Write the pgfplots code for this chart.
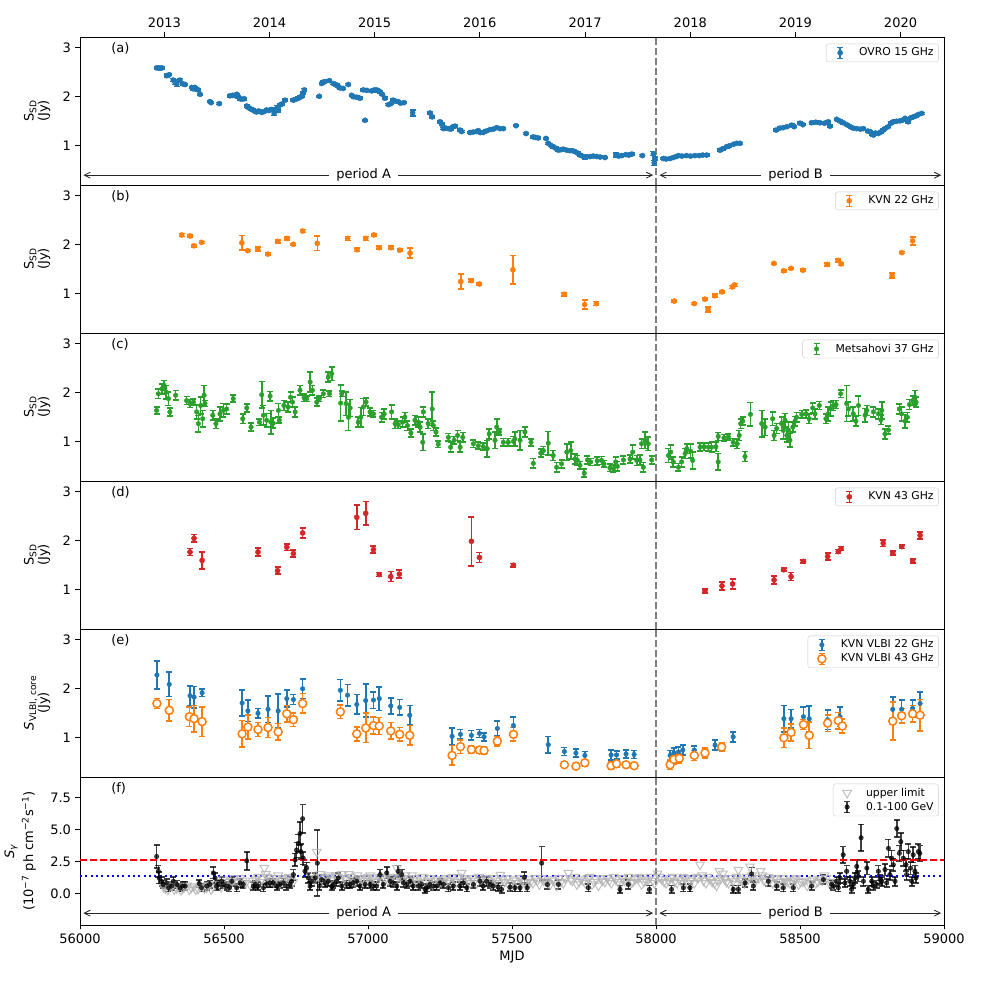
\documentclass[border=0pt]{standalone}
\usepackage{fontspec}
\setmainfont{DejaVu Sans}
\usepackage{pgfplots}
\usepackage{pgfplotstable}
\pgfplotsset{compat=1.18}
\usetikzlibrary{arrows.meta}
\definecolor{C0}{HTML}{1F77B4}
\definecolor{C1}{HTML}{FF7F0E}
\definecolor{C2}{HTML}{2CA02C}
\definecolor{C3}{HTML}{D62728}

\pgfplotstableread{
x y e
56266 2.59 0.02
56272 2.59 0.02
56278 2.58 0.02
56284 2.59 0.02
56301 2.43 0.03
56310 2.45 0.02
56324 2.34 0.03
56330 2.30 0.05
56336 2.26 0.05
56347 2.34 0.03
56359 2.26 0.02
56365 2.25 0.02
56388 2.19 0.02
56394 2.16 0.02
56399 2.19 0.02
56405 2.15 0.02
56411 2.14 0.02
56417 2.05 0.02
56451 1.90 0.02
56455 1.88 0.02
56484 1.86 0.02
56521 2.02 0.02
56530 2.03 0.02
56538 2.03 0.02
56545 2.05 0.02
56550 2.00 0.02
56556 1.96 0.02
56561 1.95 0.02
56570 1.96 0.02
56579 1.81 0.02
56585 1.78 0.02
56590 1.76 0.02
56596 1.74 0.02
56602 1.73 0.02
56608 1.70 0.02
56613 1.69 0.02
56620 1.71 0.02
56631 1.68 0.02
56640 1.70 0.02
56648 1.73 0.02
56656 1.72 0.02
56666 1.74 0.03
56674 1.66 0.04
56683 1.76 0.06
56689 1.72 0.03
56694 1.83 0.02
56700 1.85 0.02
56712 1.93 0.02
56741 1.93 0.02
56750 1.95 0.02
56758 1.97 0.02
56764 1.99 0.02
56770 2.01 0.02
56776 2.08 0.02
56779 2.14 0.03
56831 2.01 0.02
56839 2.27 0.02
56845 2.30 0.02
56851 2.31 0.02
56866 2.33 0.02
56880 2.27 0.02
56886 2.25 0.02
56891 2.24 0.02
56897 2.21 0.02
56903 2.18 0.02
56914 2.17 0.02
56932 2.25 0.02
56943 2.03 0.02
56950 2.00 0.02
56961 1.99 0.02
56972 1.97 0.02
56984 2.14 0.02
56990 1.52 0.02
56996 2.13 0.02
57013 2.12 0.02
57022 2.14 0.02
57030 2.14 0.02
57036 2.12 0.02
57042 2.10 0.02
57050 2.05 0.02
57059 1.97 0.02
57071 1.84 0.02
57080 1.86 0.02
57088 1.93 0.02
57095 1.91 0.02
57105 1.90 0.02
57113 1.87 0.02
57125 1.88 0.02
57155 1.67 0.06
57215 1.67 0.02
57223 1.59 0.02
57250 1.49 0.02
57256 1.44 0.02
57262 1.35 0.02
57270 1.36 0.02
57279 1.35 0.02
57287 1.34 0.02
57296 1.39 0.02
57302 1.40 0.02
57319 1.32 0.02
57325 1.29 0.02
57354 1.27 0.02
57365 1.28 0.02
57377 1.29 0.02
57383 1.31 0.02
57390 1.27 0.02
57400 1.27 0.02
57410 1.30 0.02
57424 1.33 0.02
57435 1.34 0.02
57447 1.37 0.02
57458 1.35 0.02
57470 1.35 0.02
57514 1.41 0.02
57549 1.25 0.02
57574 1.18 0.02
57582 1.17 0.02
57591 1.16 0.02
57618 1.15 0.02
57626 1.05 0.02
57635 1.01 0.02
57644 0.98 0.02
57652 0.95 0.02
57661 0.91 0.02
57670 0.92 0.02
57678 0.93 0.02
57690 0.91 0.02
57701 0.90 0.02
57710 0.90 0.02
57719 0.88 0.02
57728 0.85 0.02
57736 0.81 0.02
57748 0.78 0.02
57755 0.77 0.05
57771 0.78 0.02
57782 0.79 0.02
57794 0.78 0.02
57806 0.77 0.02
57823 0.76 0.02
57861 0.81 0.04
57870 0.79 0.02
57881 0.80 0.02
57895 0.82 0.02
57905 0.81 0.02
57916 0.83 0.02
57953 0.80 0.02
57991 0.84 0.04
57994 0.65 0.05
57996 0.74 0.03
58025 0.74 0.02
58035 0.73 0.02
58049 0.74 0.02
58060 0.76 0.02
58070 0.78 0.02
58078 0.80 0.02
58090 0.79 0.02
58106 0.80 0.02
58120 0.79 0.02
58135 0.80 0.02
58150 0.80 0.02
58162 0.81 0.02
58176 0.81 0.02
58222 0.91 0.02
58232 0.94 0.02
58245 0.98 0.02
58255 1.00 0.02
58269 1.03 0.02
58280 1.05 0.02
58292 1.05 0.02
58417 1.32 0.02
58430 1.36 0.02
58442 1.37 0.02
58455 1.39 0.02
58471 1.42 0.02
58480 1.39 0.02
58500 1.46 0.02
58510 1.43 0.02
58540 1.47 0.02
58555 1.48 0.02
58569 1.47 0.02
58585 1.46 0.02
58598 1.49 0.02
58604 1.40 0.02
58627 1.54 0.02
58640 1.50 0.02
58650 1.47 0.02
58662 1.43 0.02
58674 1.39 0.02
58685 1.36 0.02
58697 1.35 0.02
58710 1.34 0.02
58720 1.35 0.02
58735 1.30 0.02
58743 1.29 0.02
58750 1.24 0.02
58755 1.22 0.02
58762 1.26 0.02
58772 1.25 0.02
58780 1.28 0.02
58789 1.32 0.02
58795 1.35 0.02
58807 1.39 0.02
58815 1.46 0.02
58824 1.49 0.02
58835 1.50 0.02
58847 1.51 0.02
58855 1.52 0.02
58865 1.56 0.02
58876 1.49 0.02
58885 1.57 0.02
58893 1.59 0.02
58903 1.61 0.02
58911 1.64 0.02
58922 1.66 0.02
}\ovro

\pgfplotstableread{
x y e
56353 2.20 0.03
56382 2.18 0.02
56396 1.98 0.02
56422 2.05 0.02
56562 2.04 0.15
56582 1.88 0.02
56617 1.91 0.04
56652 1.81 0.02
56686 2.07 0.03
56718 2.13 0.03
56741 2.01 0.02
56773 2.28 0.03
56824 2.03 0.15
56929 2.13 0.04
56962 1.90 0.04
56992 2.13 0.04
57020 2.20 0.02
57039 1.94 0.03
57080 1.94 0.03
57110 1.89 0.02
57146 1.83 0.10
57322 1.25 0.15
57359 1.27 0.03
57387 1.20 0.02
57503 1.49 0.29
57682 0.99 0.03
57752 0.78 0.09
57793 0.80 0.04
58064 0.85 0.02
58133 0.80 0.02
58170 0.89 0.02
58181 0.68 0.05
58204 0.96 0.03
58229 1.04 0.02
58265 1.14 0.03
58273 1.18 0.03
58409 1.62 0.02
58443 1.47 0.02
58469 1.52 0.02
58510 1.48 0.02
58595 1.60 0.03
58633 1.68 0.03
58643 1.61 0.03
58820 1.37 0.05
58853 1.84 0.02
58891 2.08 0.08
}\kvnb

\pgfplotstableread{
x y e
56266 1.64 0.07
56272 1.98 0.10
56284 2.08 0.10
56292 2.15 0.10
56299 2.01 0.14
56307 1.88 0.14
56312 1.61 0.08
56332 1.95 0.10
56370 1.84 0.08
56382 1.78 0.08
56394 1.81 0.06
56405 1.61 0.14
56411 1.37 0.17
56419 1.74 0.17
56426 1.47 0.17
56431 1.95 0.20
56434 1.78 0.06
56461 1.54 0.10
56472 1.37 0.10
56486 1.57 0.14
56498 1.64 0.14
56509 1.67 0.10
56532 1.88 0.07
56565 1.47 0.10
56579 1.69 0.08
56594 1.30 0.08
56623 1.40 0.07
56631 1.96 0.27
56637 1.54 0.20
56648 1.44 0.14
56660 1.93 0.10
56663 1.40 0.24
56671 1.38 0.10
56689 1.64 0.14
56692 1.44 0.06
56708 1.74 0.10
56723 1.71 0.10
56731 1.91 0.10
56738 1.81 0.10
56747 1.61 0.10
56764 2.05 0.10
56778 1.90 0.08
56787 1.88 0.06
56799 2.22 0.20
56807 2.05 0.10
56822 1.81 0.08
56831 1.88 0.06
56845 1.98 0.08
56862 2.32 0.10
56874 2.39 0.14
56866 1.98 0.06
56905 1.79 0.37
56909 1.98 0.06
56924 1.78 0.24
56932 1.50 0.27
56938 1.69 0.17
56966 1.40 0.10
56975 1.50 0.20
56984 1.71 0.17
56993 1.81 0.08
57007 1.61 0.08
57019 1.57 0.07
57047 1.50 0.10
57056 1.57 0.10
57082 1.61 0.14
57094 1.37 0.10
57105 1.35 0.08
57120 1.40 0.10
57128 1.50 0.10
57137 1.33 0.10
57149 1.18 0.08
57163 1.44 0.10
57175 1.40 0.10
57181 1.30 0.10
57190 0.99 0.17
57192 1.61 0.10
57209 1.37 0.10
57223 1.67 0.34
57227 1.33 0.10
57236 1.20 0.08
57244 0.95 0.07
57279 1.09 0.08
57287 0.89 0.10
57299 1.03 0.08
57311 1.13 0.10
57320 0.89 0.10
57329 1.09 0.10
57366 0.96 0.08
57383 0.92 0.07
57400 0.90 0.07
57414 0.86 0.17
57421 1.16 0.10
57441 1.03 0.17
57447 1.30 0.17
57456 1.20 0.06
57470 0.99 0.08
57487 0.99 0.08
57505 1.01 0.10
57510 1.06 0.14
57528 1.03 0.20
57545 1.20 0.10
57566 0.99 0.07
57574 0.56 0.10
57600 0.77 0.08
57609 0.82 0.08
57626 0.97 0.24
57643 0.72 0.10
57655 0.48 0.10
57672 0.55 0.08
57690 0.79 0.17
57704 0.82 0.17
57719 0.65 0.10
57727 0.62 0.10
57736 0.52 0.08
57751 0.36 0.08
57762 0.63 0.08
57773 0.59 0.07
57796 0.61 0.08
57811 0.62 0.08
57819 0.55 0.07
57840 0.47 0.08
57852 0.45 0.08
57860 0.59 0.10
57866 0.50 0.10
57887 0.63 0.08
57910 0.65 0.08
57919 0.79 0.14
57933 0.62 0.10
57944 0.63 0.10
57950 0.96 0.10
57956 0.48 0.10
57962 1.03 0.17
57973 0.96 0.14
57985 0.63 0.08
58043 0.72 0.14
58051 0.79 0.14
58060 0.59 0.10
58078 0.48 0.08
58089 0.59 0.10
58101 0.76 0.10
58107 0.86 0.10
58120 0.81 0.14
58127 0.62 0.17
58153 0.89 0.08
58167 0.90 0.08
58182 0.89 0.08
58193 0.89 0.10
58208 0.90 0.10
58216 1.11 0.08
58216 0.59 0.17
58236 1.08 0.07
58251 1.10 0.06
58268 0.99 0.08
58282 0.96 0.10
58289 1.13 0.10
58294 1.37 0.10
58301 1.42 0.08
58309 0.70 0.10
58328 1.56 0.24
58367 1.37 0.27
58379 1.30 0.17
58405 1.47 0.14
58410 1.13 0.10
58419 1.27 0.10
58436 1.37 0.14
58442 1.23 0.17
58448 1.44 0.14
58454 1.13 0.14
58460 1.23 0.17
58465 1.03 0.14
58475 1.30 0.10
58483 1.42 0.10
58488 1.50 0.10
58506 1.56 0.08
58521 1.57 0.08
58532 1.47 0.10
58544 1.69 0.10
58552 1.57 0.10
58567 1.74 0.08
58590 1.47 0.10
58598 1.57 0.14
58606 1.67 0.14
58616 1.74 0.10
58625 1.76 0.08
58641 1.98 0.08
58662 1.78 0.37
58668 1.67 0.14
58685 1.57 0.14
58694 1.42 0.10
58703 1.74 0.20
58726 1.54 0.14
58732 1.64 0.10
58755 1.61 0.10
58772 1.57 0.10
58784 1.64 0.17
58781 1.45 0.10
58795 1.16 0.10
58807 1.24 0.08
58845 1.67 0.10
58853 1.57 0.14
58865 1.42 0.14
58873 1.50 0.10
58880 1.76 0.10
58891 1.84 0.10
58899 1.91 0.14
58903 1.81 0.10
}\mets

\pgfplotstableread{
x y e
56382 1.77 0.07
56396 2.05 0.08
56424 1.60 0.17
56618 1.77 0.08
56686 1.39 0.07
56718 1.87 0.07
56741 1.74 0.07
56773 2.16 0.10
56961 2.48 0.25
56992 2.56 0.24
57019 1.82 0.07
57039 1.31 0.04
57079 1.27 0.10
57109 1.32 0.08
57359 1.99 0.50
57387 1.66 0.10
57505 1.50 0.04
58170 0.98 0.04
58229 1.08 0.08
58266 1.12 0.10
58410 1.20 0.08
58443 1.41 0.03
58469 1.27 0.08
58512 1.58 0.03
58596 1.68 0.07
58633 1.78 0.04
58643 1.84 0.04
58789 1.95 0.07
58822 1.75 0.04
58853 1.88 0.04
58891 1.59 0.04
58917 2.11 0.07
}\kvnd

\pgfplotstableread{
x y e
56267 2.28 0.29
56310 2.09 0.25
56382 1.86 0.20
56396 1.83 0.22
56424 1.92 0.08
56563 1.71 0.27
56583 1.55 0.22
56618 1.50 0.10
56653 1.58 0.27
56688 1.55 0.34
56718 1.80 0.17
56741 1.78 0.10
56773 2.00 0.20
56904 1.97 0.22
56929 1.87 0.22
56961 1.68 0.20
56992 1.76 0.34
57019 1.77 0.17
57039 1.80 0.24
57079 1.65 0.16
57110 1.62 0.16
57145 1.46 0.20
57292 1.03 0.17
57321 1.07 0.10
57359 1.05 0.10
57387 1.09 0.08
57403 1.02 0.08
57449 1.19 0.15
57505 1.25 0.18
57626 0.86 0.17
57682 0.72 0.08
57722 0.69 0.08
57753 0.64 0.08
57844 0.65 0.10
57863 0.65 0.08
57896 0.67 0.08
57924 0.66 0.08
58049 0.64 0.10
58062 0.69 0.10
58078 0.71 0.10
58093 0.75 0.10
58133 0.75 0.08
58205 0.85 0.10
58268 1.02 0.10
58444 1.39 0.27
58469 1.39 0.19
58512 1.43 0.20
58532 1.39 0.26
58596 1.37 0.20
58639 1.43 0.20
58822 1.58 0.25
58853 1.58 0.19
58891 1.60 0.17
58917 1.70 0.24
}\vlbib

\pgfplotstableread{
x y e
56267 1.70 0.10
56310 1.56 0.22
56380 1.43 0.20
56396 1.39 0.27
56424 1.33 0.30
56563 1.08 0.27
56583 1.22 0.24
56618 1.17 0.14
56653 1.21 0.20
56688 1.12 0.17
56718 1.49 0.17
56741 1.37 0.14
56773 1.70 0.20
56904 1.53 0.14
56961 1.08 0.14
56992 1.20 0.30
57019 1.25 0.17
57039 1.24 0.17
57079 1.14 0.17
57110 1.07 0.14
57145 1.05 0.20
57292 0.64 0.20
57321 0.82 0.14
57359 0.76 0.07
57387 0.75 0.07
57403 0.74 0.07
57449 0.93 0.10
57505 1.07 0.14
57682 0.45 0.05
57722 0.42 0.07
57753 0.49 0.07
57844 0.43 0.07
57863 0.47 0.07
57896 0.45 0.05
57924 0.43 0.05
58049 0.45 0.10
58062 0.56 0.10
58081 0.58 0.10
58133 0.64 0.10
58170 0.69 0.10
58228 0.81 0.08
58444 1.00 0.20
58469 1.11 0.17
58512 1.27 0.10
58532 1.05 0.27
58596 1.30 0.17
58633 1.35 0.17
58647 1.24 0.14
58822 1.34 0.39
58853 1.45 0.15
58891 1.49 0.17
58917 1.46 0.32
}\vlbio

\pgfplotstableread{
x y
56290 0.5
56297 0.4
56305 0.3
56312 0.7
56320 0.6
56327 0.3
56335 0.4
56342 0.55
56350 0.25
56357 0.4
56362 0.5
56372 0.6
56380 0.3
56387 0.45
56395 0.55
56402 0.3
56410 0.35
56417 0.5
56425 0.6
56432 0.4
56440 0.45
56447 0.65
56455 0.3
56462 0.5
56470 0.7
56480 0.9
56490 0.5
56497 1.1
56505 0.9
56512 0.7
56520 0.6
56527 1.0
56535 1.2
56542 0.9
56550 0.8
56557 1.2
56565 1.0
56575 0.8
56590 0.7
56600 1.0
56610 1.1
56617 1.3
56625 0.9
56632 1.1
56640 2.0
56645 1.5
56650 1.3
56658 1.2
56665 1.0
56672 0.9
56680 1.2
56688 1.4
56695 0.8
56702 1.0
56710 1.1
56717 1.2
56725 1.3
56732 1.0
56740 0.9
56800 1.4
56808 1.2
56815 1.1
56822 3.25
56828 1.3
56835 1.5
56843 1.0
56850 1.2
56858 1.3
56865 1.4
56873 1.1
56880 1.0
56888 1.4
56895 1.3
56903 1.0
56910 1.5
56918 1.2
56925 1.1
56933 1.5
56940 1.3
56948 1.1
56955 0.9
56963 1.4
56970 1.2
56978 1.1
56985 1.0
56993 1.2
57000 1.3
57008 1.4
57015 1.1
57023 1.0
57030 0.9
57040 1.3
57050 1.2
57060 1.1
57070 1.0
57078 1.2
57085 1.3
57093 0.9
57100 2.0
57108 1.3
57115 1.2
57123 1.1
57130 1.4
57138 1.2
57145 1.0
57153 1.4
57160 1.2
57168 1.0
57175 0.8
57183 1.1
57190 1.3
57200 0.9
57210 1.0
57218 1.2
57225 0.7
57233 1.0
57240 1.1
57248 0.8
57255 0.9
57263 1.1
57270 1.2
57278 1.0
57285 0.8
57293 1.3
57300 1.0
57308 0.9
57315 1.3
57325 1.6
57333 1.2
57340 1.1
57348 1.0
57355 0.8
57363 1.2
57370 1.0
57378 0.8
57385 1.3
57393 1.1
57400 0.9
57408 1.2
57415 1.1
57423 0.9
57430 0.7
57438 1.2
57445 1.0
57453 0.8
57460 1.45
57468 1.1
57475 0.9
57483 1.2
57490 0.6
57498 0.8
57505 1.1
57513 1.0
57520 0.8
57528 1.2
57535 1.0
57543 0.9
57550 0.6
57558 1.1
57565 0.9
57573 0.8
57580 1.2
57588 1.0
57595 0.7
57603 1.2
57610 1.0
57618 0.9
57625 0.8
57633 0.7
57640 1.1
57648 1.0
57655 0.6
57663 1.2
57670 0.9
57678 0.8
57685 1.2
57696 1.6
57703 1.1
57710 1.0
57718 1.3
57725 0.7
57733 0.9
57740 1.1
57748 1.0
57755 0.8
57763 1.2
57770 1.3
57778 0.7
57785 0.9
57793 1.1
57800 0.6
57808 1.2
57815 1.0
57823 0.9
57830 1.2
57838 1.0
57845 0.8
57853 1.3
57860 1.1
57868 0.9
57875 0.7
57883 1.2
57890 1.0
57898 1.0
57905 1.3
57913 0.8
57920 0.9
57928 1.1
57935 1.2
57943 1.3
57950 0.7
57958 0.9
57965 1.0
57973 1.1
57980 1.3
57988 1.0
57995 0.8
58005 1.55
58013 1.3
58020 1.1
58028 0.9
58035 0.8
58043 1.0
58050 1.2
58058 1.3
58065 0.9
58073 0.8
58080 1.1
58088 1.0
58095 1.3
58103 1.2
58110 0.8
58118 1.0
58125 1.1
58133 0.8
58140 1.3
58147 1.2
58153 2.25
58160 1.4
58165 1.0
58173 0.8
58180 1.3
58188 1.1
58195 0.9
58203 0.8
58210 0.6
58215 1.0
58220 1.75
58226 1.2
58232 1.55
58238 1.1
58245 0.9
58252 0.8
58260 1.2
58268 1.0
58275 0.7
58280 1.3
58286 1.85
58293 1.1
58300 1.0
58307 0.8
58315 1.3
58320 1.1
58326 2.1
58333 1.4
58340 0.9
58345 1.0
58350 1.2
58357 1.2
58363 1.75
58369 1.4
58375 1.0
58382 0.9
58390 1.3
58397 1.1
58405 0.8
58412 1.2
58420 1.1
58427 0.9
58435 0.7
58442 1.2
58450 1.0
58457 0.9
58465 0.8
58472 1.0
58480 1.1
58487 1.2
58495 0.7
58502 0.9
58510 0.9
58517 1.0
58525 0.6
58532 0.8
58540 1.0
58547 1.1
58555 0.8
58562 0.9
58570 1.1
58577 1.0
58585 1.4
58592 1.2
58600 0.9
58607 0.9
58615 0.7
}\ul

\pgfplotstableread{
x y e
56266 2.89 0.90
56272 1.73 0.45
56275 1.21 0.45
56283 0.95 0.35
56289 0.70 0.30
56301 0.82 0.30
56307 0.44 0.30
56318 0.57 0.30
56324 0.95 0.35
56336 0.70 0.30
56347 0.44 0.30
56356 0.57 0.30
56365 0.57 0.30
56414 0.77 0.30
56422 0.44 0.30
56440 0.57 0.30
56451 0.70 0.30
56463 1.60 0.45
56469 1.21 0.40
56474 0.57 0.30
56480 0.70 0.35
56492 0.95 0.35
56498 0.70 0.30
56509 0.57 0.30
56519 0.44 0.30
56527 0.95 0.35
56544 0.44 0.30
56556 0.82 0.30
56567 0.70 0.30
56579 2.55 0.70
56602 0.57 0.30
56608 0.70 0.30
56619 0.57 0.30
56637 0.44 0.30
56648 0.75 0.30
56660 0.82 0.30
56671 0.82 0.30
56683 0.57 0.30
56694 0.70 0.30
56706 0.82 0.35
56717 0.57 0.30
56729 0.70 0.30
56735 0.95 0.35
56741 1.47 0.40
56747 2.63 0.50
56752 3.40 0.60
56758 3.92 0.70
56764 4.69 0.90
56767 3.27 0.60
56773 5.85 1.10
56775 2.76 0.50
56781 1.73 0.45
56787 1.98 0.45
56793 1.21 0.40
56799 0.57 0.30
56804 0.95 0.35
56816 1.21 0.40
56824 2.37 2.60
56831 0.57 0.30
56839 1.08 0.35
56851 0.82 0.30
56862 0.95 0.35
56874 0.57 0.30
56880 0.70 0.30
56891 0.95 0.35
56897 1.21 0.40
56909 0.57 0.30
56926 0.70 0.30
56938 0.70 0.30
56949 0.82 0.30
56961 0.95 0.35
56972 0.57 0.30
56990 0.70 0.30
57007 0.70 0.30
57019 0.57 0.30
57030 0.57 0.30
57042 1.47 0.40
57053 0.70 0.30
57065 1.60 0.45
57077 0.95 0.35
57088 0.82 0.30
57100 0.57 0.30
57105 1.73 0.45
57117 1.47 0.40
57123 0.82 0.30
57134 0.70 0.30
57146 0.95 0.35
57157 0.57 0.30
57175 0.57 0.30
57186 0.70 0.30
57198 0.31 0.30
57204 0.44 0.30
57215 0.70 0.30
57227 0.57 0.30
57238 0.57 0.30
57250 0.82 0.30
57262 0.70 0.30
57279 0.44 0.30
57296 0.57 0.30
57319 0.57 0.30
57331 0.82 0.30
57343 0.44 0.30
57366 0.70 0.30
57389 0.95 0.35
57400 0.57 0.30
57412 0.95 0.35
57424 0.70 0.30
57435 0.57 0.30
57452 0.49 0.30
57464 0.31 0.30
57493 0.49 0.30
57510 0.44 0.30
57528 0.44 0.30
57543 1.26 0.40
57553 0.44 0.30
57603 2.37 1.30
57623 0.70 0.35
57661 0.70 0.35
57765 0.44 0.30
57875 0.31 0.30
57904 0.70 0.35
57977 0.31 0.30
58054 0.31 0.30
58095 0.44 0.30
58118 0.44 0.30
58268 0.31 0.30
58286 0.31 0.30
58309 0.82 0.30
58332 1.52 0.50
58338 0.57 0.30
58390 0.95 0.35
58419 0.57 0.30
58442 0.44 0.30
58477 0.44 0.30
58540 0.57 0.30
58581 1.08 0.35
58610 0.70 0.30
58616 0.57 0.30
58627 0.95 0.35
58633 0.44 0.30
58639 1.21 0.40
58650 3.02 0.65
58656 0.82 0.30
58662 1.73 0.45
58673 0.95 0.35
58679 0.31 0.30
58685 0.70 0.30
58691 1.21 0.40
58697 2.11 0.50
58702 1.34 0.40
58712 4.36 1.05
58720 0.95 0.35
58732 1.98 0.50
58737 0.31 0.30
58749 0.95 0.35
58755 0.57 0.30
58766 0.70 0.30
58772 1.73 0.45
58778 1.08 0.35
58784 0.95 0.35
58795 1.86 0.45
58801 0.82 0.30
58807 3.53 0.70
58812 1.47 0.40
58818 2.76 0.60
58824 2.24 0.50
58830 0.95 0.35
58836 5.08 0.65
58845 3.14 0.60
58850 4.05 0.70
58859 2.76 0.60
58868 2.24 0.50
58870 1.47 0.40
58876 3.27 0.60
58884 1.98 0.50
58888 0.95 0.35
58893 3.02 0.60
58899 1.73 0.45
58903 1.21 0.40
58911 3.27 0.60
58916 3.14 0.60
}\gam

\tikzset{
  vline/.style={color=gray, dash pattern=on 7pt off 3pt, line width=1.8pt},
  per/.style={line width=0.8pt, black!85, {Straight Barb[length=6pt,width=6pt]}-{Straight Barb[length=6pt,width=6pt]}},
  pertxt/.style={fill=white, inner xsep=7pt, inner ysep=1pt, font=\fontsize{13}{14}\selectfont},
}

\pgfplotsset{
  panel/.style={
    scale only axis, width=864pt, height=148pt,
    xmin=56000, xmax=59000, ymin=0.2, ymax=3.22,
    scaled x ticks=false, scaled y ticks=false,
    xtick=\empty, ytick={1,2,3}, yticklabels={1,2,3},
    ytick pos=left, tick align=outside, major tick length=4.5pt,
    axis line style={line width=0.9pt},
    every tick/.style={black, line width=0.9pt},
    ylabel style={align=center, at={(axis description cs:-0.029,0.5)}, anchor=south, font=\fontsize{13}{14}\selectfont},
    legend style={at={(rel axis cs:0.994,0.955)}, anchor=north east, draw=black!20,
      rounded corners=2.5pt, font=\fontsize{10.8}{12}\selectfont,
      inner xsep=3pt, inner ysep=2pt, cells={anchor=west}},
  },
  eb/.style={only marks, mark=*, mark size=2.4pt,
    error bars/y dir=both, error bars/y explicit,
    error bars/error bar style={line width=1.6pt},
    error bars/error mark options={rotate=90, mark size=3pt, line width=1.6pt}},
  errleg/.style={legend image code/.code={
    \path[draw=none, fill=none] (0pt,0pt) -- (28pt,0pt);
    \draw[##1, mark=none, line width=1.5pt] (11pt,-5.5pt) -- (11pt,5.5pt);
    \draw[##1, mark=none, line width=1.5pt] (8pt,-5.5pt) -- (14pt,-5.5pt);
    \draw[##1, mark=none, line width=1.5pt] (8pt,5.5pt) -- (14pt,5.5pt);
    \draw[##1] plot coordinates {(11pt,0pt)};}},
  markleg/.style={legend image code/.code={
    \path[draw=none, fill=none] (0pt,0pt) -- (28pt,0pt);
    \draw[##1] plot coordinates {(11pt,0pt)};}},
}

\begin{document}
\fontsize{13}{15}\selectfont
\begin{tikzpicture}
\path[use as bounding box] (0,0) rectangle (981pt,981pt);

% (a)
\begin{axis}[panel, at={(80pt,796pt)}, anchor=south west,
  xtick={56293,56658,57023,57388,57754,58119,58484,58849},
  xticklabels={2013,2014,2015,2016,2017,2018,2019,2020},
  xtick pos=right, xticklabel pos=right,
  ylabel={S\textsubscript{SD}\\(Jy)}]
\addplot[C0, eb, mark size=2.6pt, errleg] table[x=x,y=y,y error=e]{\ovro};
\addlegendentry{OVRO 15 GHz}
\draw[vline] (axis cs:58000,0.2) -- (axis cs:58000,3.22);
\draw[per] (axis cs:56012,0.4) -- (axis cs:57990,0.4);
\draw[per] (axis cs:58012,0.4) -- (axis cs:58990,0.4);
\node[pertxt] at (axis cs:56985,0.4) {period A};
\node[pertxt] at (axis cs:58485,0.4) {period B};
\node[anchor=west] at (rel axis cs:0.031,0.92) {(a)};
\end{axis}

% (b)
\begin{axis}[panel, at={(80pt,648pt)}, anchor=south west,
  ylabel={S\textsubscript{SD}\\(Jy)}]
\addplot[C1, eb, mark size=2.6pt, errleg] table[x=x,y=y,y error=e]{\kvnb};
\addlegendentry{KVN 22 GHz}
\draw[vline] (axis cs:58000,0.2) -- (axis cs:58000,3.22);
\node[anchor=west] at (rel axis cs:0.031,0.92) {(b)};
\end{axis}

% (c)
\begin{axis}[panel, at={(80pt,500pt)}, anchor=south west,
  ylabel={S\textsubscript{SD}\\(Jy)}]
\addplot[C2, eb, mark size=2.3pt, errleg] table[x=x,y=y,y error=e]{\mets};
\addlegendentry{Metsahovi 37 GHz}
\draw[vline] (axis cs:58000,0.2) -- (axis cs:58000,3.22);
\node[anchor=west] at (rel axis cs:0.031,0.92) {(c)};
\end{axis}

% (d)
\begin{axis}[panel, at={(80pt,352pt)}, anchor=south west,
  ylabel={S\textsubscript{SD}\\(Jy)}]
\addplot[C3, eb, mark size=2.6pt, errleg] table[x=x,y=y,y error=e]{\kvnd};
\addlegendentry{KVN 43 GHz}
\draw[vline] (axis cs:58000,0.2) -- (axis cs:58000,3.22);
\node[anchor=west] at (rel axis cs:0.031,0.92) {(d)};
\end{axis}

% (e)
\begin{axis}[panel, at={(80pt,204pt)}, anchor=south west,
  ylabel={\textit{S}\textsubscript{VLBI, core}\\(Jy)}]
\addplot[C0, eb, mark size=2.3pt, errleg] table[x=x,y=y,y error=e]{\vlbib};
\addlegendentry{KVN VLBI 22 GHz}
\addplot[C1, eb, mark size=4pt, mark options={fill=white, line width=1.5pt}, errleg] table[x=x,y=y,y error=e]{\vlbio};
\addlegendentry{KVN VLBI 43 GHz}
\draw[vline] (axis cs:58000,0.2) -- (axis cs:58000,3.22);
\node[anchor=west] at (rel axis cs:0.031,0.92) {(e)};
\end{axis}

% (f)
\begin{axis}[panel, at={(80pt,56pt)}, anchor=south west,
  ymin=-2.48, ymax=9.12, ytick={0,2.5,5,7.5}, yticklabels={0.0,2.5,5.0,7.5},
  xtick={56000,56500,57000,57500,58000,58500,59000},
  xticklabels={56000,56500,57000,57500,58000,58500,59000},
  xtick pos=left, xticklabel pos=left,
  xlabel={MJD}, xlabel style={font=\fontsize{13}{14}\selectfont, yshift=2pt},
  ylabel style={at={(axis description cs:-0.046,0.5)}, font=\fontsize{13}{19}\selectfont},
  ylabel={\textit{S}\textsubscript{\textit{γ}}\\(10\textsuperscript{−7} ph cm\textsuperscript{−2}s\textsuperscript{−1})}]
\addplot[only marks, mark=triangle, mark size=5pt, mark options={rotate=180, line width=1pt}, color=black!30, opacity=0.8, markleg] table[x=x,y=y]{\ul};
\addlegendentry{upper limit}
\addplot[black, opacity=0.75, eb, mark size=2.3pt, errleg] table[x=x,y=y,y error=e]{\gam};
\addlegendentry{0.1-100 GeV}
\addplot[red, line width=2pt, dash pattern=on 7pt off 3pt, forget plot] coordinates {(56000,2.6) (59000,2.6)};
\addplot[blue, line width=2pt, dash pattern=on 2pt off 3.3pt, forget plot] coordinates {(56000,1.35) (59000,1.35)};
\draw[vline] (axis cs:58000,-2.48) -- (axis cs:58000,9.12);
\draw[per] (axis cs:56012,-1.55) -- (axis cs:57990,-1.55);
\draw[per] (axis cs:58012,-1.55) -- (axis cs:58990,-1.55);
\node[pertxt] at (axis cs:56985,-1.55) {period A};
\node[pertxt] at (axis cs:58485,-1.55) {period B};
\node[anchor=west] at (rel axis cs:0.031,0.926) {(f)};
\end{axis}
\end{tikzpicture}
\end{document}
